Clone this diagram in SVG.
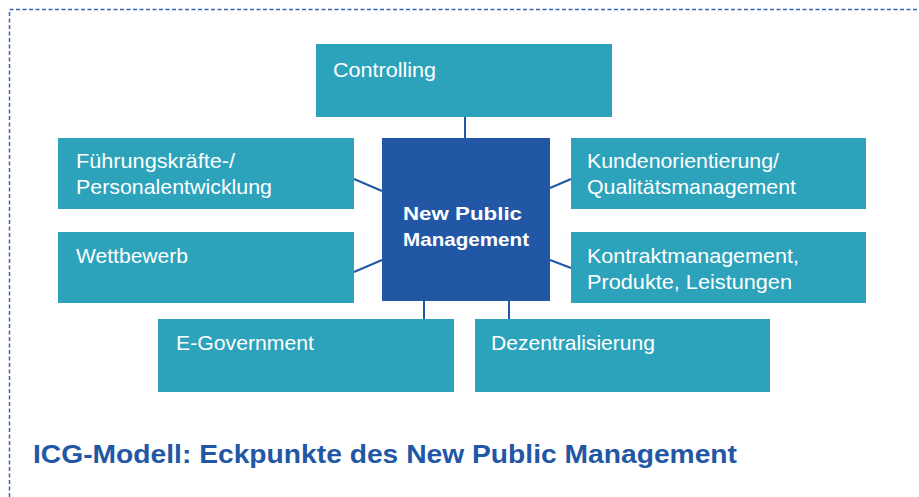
<svg xmlns="http://www.w3.org/2000/svg" width="919" height="497" viewBox="0 0 919 497">
<style>
.box{fill:#2ca3bb}
.center{fill:#2157a5}
.lbl{font-family:"Liberation Sans",Arial,sans-serif;font-size:21px;fill:#ffffff}
.clbl{font-family:"Liberation Sans",Arial,sans-serif;font-size:19px;font-weight:bold;fill:#ffffff}
.con{stroke:#2157a5;stroke-width:2;fill:none}
.title{font-family:"Liberation Sans",Arial,sans-serif;font-size:26px;font-weight:bold;fill:#2157a5}
</style>
<rect x="0" y="0" width="919" height="497" fill="#ffffff"/>
<path d="M9.5 497 V9.5 H919" fill="none" stroke="#3b66b4" stroke-width="1.5" stroke-dasharray="4 2.5"/>
<g id="connectors">
<line class="con" x1="465" y1="117" x2="465" y2="138"/>
<line class="con" x1="354" y1="179" x2="382" y2="191"/>
<line class="con" x1="550" y1="188" x2="571" y2="179"/>
<line class="con" x1="354" y1="272" x2="382" y2="260"/>
<line class="con" x1="550" y1="260" x2="571" y2="268"/>
<line class="con" x1="424" y1="301" x2="424" y2="319"/>
<line class="con" x1="509" y1="301" x2="509" y2="319"/>
</g>
<g id="controlling">
<rect class="box" x="316" y="44" width="296" height="73"/>
<text class="lbl" x="333" y="77" textLength="103" lengthAdjust="spacingAndGlyphs">Controlling</text>
</g>
<g id="fuehrung">
<rect class="box" x="58" y="138" width="296" height="71"/>
<text class="lbl" x="76" y="168" textLength="159" lengthAdjust="spacingAndGlyphs">Führungskräfte-/</text>
<text class="lbl" x="76" y="194" textLength="196" lengthAdjust="spacingAndGlyphs">Personalentwicklung</text>
</g>
<g id="kunden">
<rect class="box" x="571" y="138" width="295" height="71"/>
<text class="lbl" x="587" y="168" textLength="192" lengthAdjust="spacingAndGlyphs">Kundenorientierung/</text>
<text class="lbl" x="587" y="194" textLength="209" lengthAdjust="spacingAndGlyphs">Qualitätsmanagement</text>
</g>
<g id="wettbewerb">
<rect class="box" x="58" y="232" width="296" height="71"/>
<text class="lbl" x="76" y="263" textLength="112" lengthAdjust="spacingAndGlyphs">Wettbewerb</text>
</g>
<g id="kontrakt">
<rect class="box" x="571" y="232" width="295" height="71"/>
<text class="lbl" x="587" y="263" textLength="212" lengthAdjust="spacingAndGlyphs">Kontraktmanagement,</text>
<text class="lbl" x="587" y="289" textLength="205" lengthAdjust="spacingAndGlyphs">Produkte, Leistungen</text>
</g>
<g id="egov">
<rect class="box" x="158" y="319" width="296" height="73"/>
<text class="lbl" x="176" y="350" textLength="138" lengthAdjust="spacingAndGlyphs">E-Government</text>
</g>
<g id="dezentral">
<rect class="box" x="475" y="319" width="295" height="73"/>
<text class="lbl" x="491" y="350" textLength="164" lengthAdjust="spacingAndGlyphs">Dezentralisierung</text>
</g>
<g id="npm">
<rect class="center" x="382" y="138" width="168" height="163"/>
<text class="clbl" x="403" y="220" textLength="119" lengthAdjust="spacingAndGlyphs">New Public</text>
<text class="clbl" x="403" y="246" textLength="126" lengthAdjust="spacingAndGlyphs">Management</text>
</g>
<text class="title" x="33" y="463" textLength="704" lengthAdjust="spacingAndGlyphs">ICG-Modell: Eckpunkte des New Public Management</text>
</svg>
